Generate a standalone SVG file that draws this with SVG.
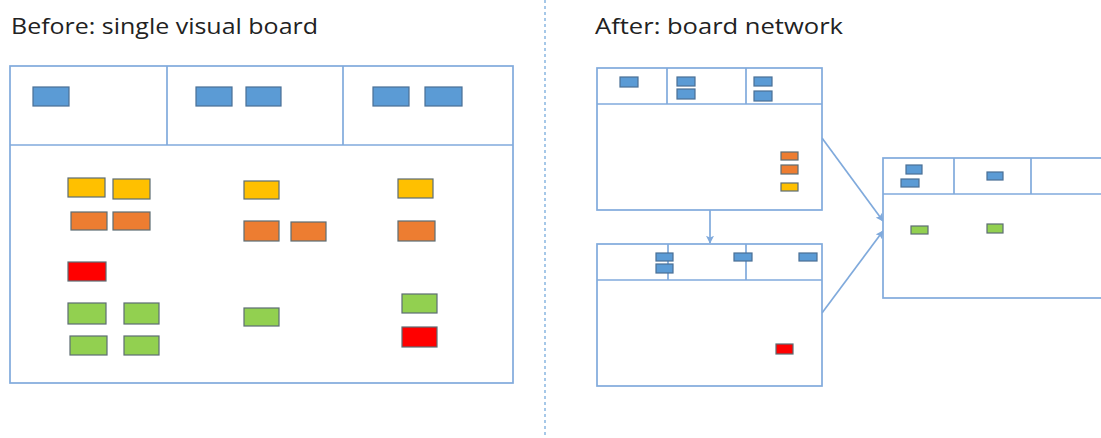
<svg xmlns="http://www.w3.org/2000/svg" width="1101" height="438" viewBox="0 0 1101 438">
<style>
.title{font-family:"Open Sans","Noto Sans","Liberation Sans",sans-serif;font-size:21px;fill:#222222}
.board{fill:#ffffff;stroke:#80aadc;stroke-width:1.7}
.div{stroke:#80aadc;stroke-width:1.7;fill:none}
.n{stroke:#5d6d73;stroke-width:1.2}
.b{fill:#5b9bd5;stroke:#4a6f95}
.y{fill:#ffc000}
.o{fill:#ed7d31}
.r{fill:#ff0000}
.g{fill:#92d050}
.conn{stroke:#80aadc;stroke-width:1.7;fill:none}
</style>
<defs>
<marker id="ah" viewBox="0 0 10 10" refX="9" refY="5" markerWidth="8" markerHeight="8" orient="auto" markerUnits="userSpaceOnUse">
<path d="M0,0 L10,5 L0,10 L2,5 z" fill="#80aadc"/>
</marker>
</defs>
<rect width="1101" height="438" fill="#ffffff"/>
<text class="title" x="11" y="34" textLength="307" lengthAdjust="spacingAndGlyphs">Before: single visual board</text>
<text class="title" x="595" y="34" textLength="248" lengthAdjust="spacingAndGlyphs">After: board network</text>
<line x1="545" y1="0" x2="545" y2="438" stroke="#9dc3e6" stroke-width="1.8" stroke-dasharray="3 3"/>

<g id="board-single">
<rect class="board" x="10" y="66" width="503" height="317"/>
<line class="div" x1="10" y1="145" x2="513" y2="145"/>
<line class="div" x1="167" y1="66" x2="167" y2="145"/>
<line class="div" x1="343" y1="66" x2="343" y2="145"/>
<rect class="n b" x="33" y="87" width="36" height="19"/>
<rect class="n b" x="196" y="87" width="36" height="19"/>
<rect class="n b" x="246" y="87" width="35" height="19"/>
<rect class="n b" x="373" y="87" width="36" height="19"/>
<rect class="n b" x="425" y="87" width="37" height="19"/>
<rect class="n y" x="68" y="178" width="37" height="19"/>
<rect class="n y" x="113" y="179" width="37" height="20"/>
<rect class="n o" x="71" y="212" width="36" height="18"/>
<rect class="n o" x="113" y="212" width="37" height="18"/>
<rect class="n r" x="68" y="262" width="38" height="19"/>
<rect class="n g" x="68" y="303" width="38" height="21"/>
<rect class="n g" x="124" y="303" width="35" height="21"/>
<rect class="n g" x="70" y="336" width="37" height="19"/>
<rect class="n g" x="124" y="336" width="35" height="19"/>
<rect class="n y" x="244" y="181" width="35" height="18"/>
<rect class="n o" x="244" y="221" width="35" height="20"/>
<rect class="n o" x="291" y="222" width="35" height="19"/>
<rect class="n g" x="244" y="308" width="35" height="18"/>
<rect class="n y" x="398" y="179" width="35" height="19"/>
<rect class="n o" x="398" y="221" width="37" height="20"/>
<rect class="n g" x="402" y="294" width="35" height="19"/>
<rect class="n r" x="402" y="327" width="35" height="20"/>
</g>

<g id="connectors">
<line class="conn" x1="710" y1="210" x2="710" y2="243" marker-end="url(#ah)"/>
<line class="conn" x1="822" y1="138" x2="883" y2="221" marker-end="url(#ah)"/>
<line class="conn" x1="822" y1="313" x2="883" y2="231" marker-end="url(#ah)"/>
</g>

<g id="board-a">
<rect class="board" x="597" y="68" width="225" height="142"/>
<line class="div" x1="597" y1="104" x2="822" y2="104"/>
<line class="div" x1="667" y1="68" x2="667" y2="104"/>
<line class="div" x1="746" y1="68" x2="746" y2="104"/>
<rect class="n b" x="620" y="77" width="18" height="10"/>
<rect class="n b" x="677" y="77" width="18" height="9"/>
<rect class="n b" x="677" y="89" width="18" height="10"/>
<rect class="n b" x="754" y="77" width="18" height="9"/>
<rect class="n b" x="754" y="91" width="18" height="10"/>
<rect class="n o" x="781" y="152" width="17" height="8"/>
<rect class="n o" x="781" y="165" width="17" height="9"/>
<rect class="n y" x="781" y="183" width="17" height="8"/>
</g>

<g id="board-b">
<rect class="board" x="597" y="244" width="225" height="142"/>
<line class="div" x1="597" y1="280" x2="822" y2="280"/>
<line class="div" x1="668" y1="244" x2="668" y2="280"/>
<line class="div" x1="746" y1="244" x2="746" y2="280"/>
<rect class="n b" x="656" y="253" width="17" height="8"/>
<rect class="n b" x="656" y="264" width="17" height="9"/>
<rect class="n b" x="734" y="253" width="18" height="8"/>
<rect class="n b" x="799" y="253" width="18" height="8"/>
<rect class="n r" x="776" y="344" width="17" height="10"/>
</g>

<g id="board-c">
<rect class="board" x="883" y="158" width="240" height="140"/>
<line class="div" x1="883" y1="194" x2="1101" y2="194"/>
<line class="div" x1="954" y1="158" x2="954" y2="194"/>
<line class="div" x1="1031" y1="158" x2="1031" y2="194"/>
<rect class="n b" x="906" y="165" width="16" height="9"/>
<rect class="n b" x="901" y="179" width="18" height="8"/>
<rect class="n b" x="987" y="172" width="16" height="8"/>
<rect class="n g" x="911" y="226" width="17" height="8"/>
<rect class="n g" x="987" y="224" width="16" height="9"/>
</g>
</svg>
